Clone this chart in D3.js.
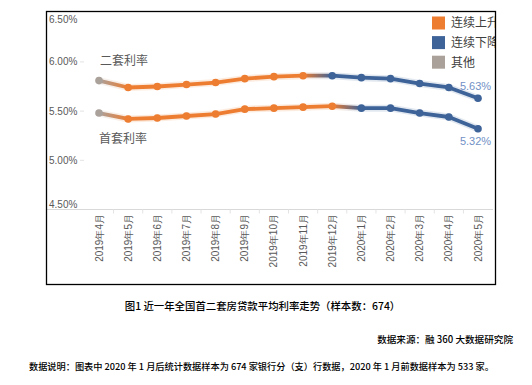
<!DOCTYPE html>
<html><head><meta charset="utf-8">
<script src="https://cdn.jsdelivr.net/npm/d3@7"></script>
<style>
html,body{margin:0;padding:0;background:#fff;}
svg{display:block;}
</style></head>
<body>
<svg id="c" width="532" height="385"></svg>
<script>
const months = ["2019年4月","2019年5月","2019年6月","2019年7月","2019年8月","2019年9月","2019年10月","2019年11月","2019年12月","2020年1月","2020年2月","2020年3月","2020年4月","2020年5月"];
const secondRate = [5.81,5.74,5.75,5.77,5.79,5.83,5.85,5.86,5.86,5.84,5.83,5.78,5.74,5.63];
const firstRate  = [5.48,5.42,5.43,5.45,5.47,5.52,5.53,5.54,5.55,5.53,5.53,5.48,5.44,5.32];
const secondState = ["其他","连续上升","连续上升","连续上升","连续上升","连续上升","连续上升","连续上升","连续下降","连续下降","连续下降","连续下降","连续下降","连续下降"];
const firstState  = ["其他","连续上升","连续上升","连续上升","连续上升","连续上升","连续上升","连续上升","连续上升","连续下降","连续下降","连续下降","连续下降","连续下降"];
const seriesNames = ["二套利率","首套利率"];
const legendItems = ["连续上升","连续下降","其他"];
const yTicks = [4.5,5.0,5.5,6.0,6.5];
const caption = "图1 近一年全国首二套房贷款平均利率走势（样本数：674）";
const sourceText = "数据来源：融 360 大数据研究院";
const noteText = "数据说明：图表中 2020 年 1 月后统计数据样本为 674 家银行分（支）行数据，2020 年 1 月前数据样本为 533 家。";

const colors = {"连续上升":"#ED7D31","连续下降":"#3D6399","其他":"#ABA19B"};

const svg = d3.select("#c");
const frame = {x:46.5, y:11.5, w:449, h:273};

const x = d3.scalePoint().domain(months).range([99, 478]);
const y = d3.scaleLinear().domain([4.5, 6.5]).range([209.5, 12.7]);
const step = x.step();

const defs = svg.append("defs");
defs.append("clipPath").attr("id","fclip").append("rect")
  .attr("x",frame.x).attr("y",frame.y).attr("width",frame.w).attr("height",frame.h);

// baseline grid
svg.append("line").attr("x1",frame.x).attr("x2",493).attr("y1",y(4.5)).attr("y2",y(4.5))
  .attr("stroke","#d9d9d9").attr("stroke-width",1);
// tiny grid remnants
yTicks.filter(v=>v>4.5 && v<6.5).forEach(v=>{
  svg.append("line").attr("x1",80).attr("x2",84).attr("y1",y(v)).attr("y2",y(v))
    .attr("stroke","#e3e3e3").attr("stroke-width",1);
});
// category ticks
months.forEach((m,i)=>{
  if(i===0) return;
  const xx = x(m) - step/2;
  svg.append("line").attr("x1",xx).attr("x2",xx).attr("y1",y(4.5)).attr("y2",y(4.5)+4)
    .attr("stroke","#e3e3e3").attr("stroke-width",1);
});

// y labels
yTicks.forEach(v=>{
  const yy = Math.min(Math.max(y(v), 19), 204.5);
  svg.append("text").attr("x",49).attr("y",yy).attr("dy","0.35em")
    .attr("font-family","Liberation Sans, Arial, sans-serif").attr("font-size",10)
    .attr("fill","#595959").text(d3.format(".2f")(v)+"%");
});

// x labels (rotated)
months.forEach(m=>{
  svg.append("text")
    .attr("transform",`translate(${x(m)+3.5},${214}) rotate(-90)`)
    .attr("text-anchor","end")
    .attr("font-family","Liberation Sans, Arial, sans-serif").attr("font-size",10)
    .attr("fill","#595959").text(m);
});

// lines with gradient segments
let gid = 0;
function drawSeries(vals, states){
  const g = svg.append("g");
  for(let i=0;i<vals.length-1;i++){
    const x1 = x(months[i]), x2 = x(months[i+1]);
    const c1 = colors[states[i]], c2 = colors[states[i+1]];
    let stroke = c1;
    if(c1!==c2){
      const id = "gr"+(gid++);
      const gr = defs.append("linearGradient").attr("id",id)
        .attr("gradientUnits","userSpaceOnUse").attr("x1",x1).attr("x2",x2).attr("y1",0).attr("y2",0);
      gr.append("stop").attr("offset","0%").attr("stop-color",c1);
      gr.append("stop").attr("offset","100%").attr("stop-color",c2);
      stroke = `url(#${id})`;
    }
    const seg = [[months[i],vals[i]],[months[i+1],vals[i+1]]];
    const line = d3.line().x(d=>x(d[0])).y(d=>y(d[1]));
    g.append("path").attr("d",line(seg)).attr("fill","none")
      .attr("stroke",stroke).attr("stroke-width",7).attr("stroke-opacity",0.15).attr("stroke-linecap","round");
    g.append("path").attr("d",line(seg)).attr("fill","none")
      .attr("stroke",stroke).attr("stroke-width",3.8).attr("stroke-linecap","round");
  }
  g.selectAll("circle").data(vals).join("circle")
    .attr("cx",(d,i)=>x(months[i])).attr("cy",d=>y(d)).attr("r",3.8)
    .attr("fill",(d,i)=>colors[states[i]]);
}
drawSeries(secondRate, secondState);
drawSeries(firstRate, firstState);

// series labels
svg.append("text").attr("x",x(months[0])+1).attr("y",y(secondRate[0])-20).attr("dy","0.35em")
  .attr("font-family","Noto Sans CJK SC, sans-serif").attr("font-size",12).attr("fill","#595959").text(seriesNames[0]);
svg.append("text").attr("x",x(months[0])).attr("y",y(firstRate[0])+26).attr("dy","0.35em")
  .attr("font-family","Noto Sans CJK SC, sans-serif").attr("font-size",12).attr("fill","#595959").text(seriesNames[1]);

// end labels
const last = months.length-1;
svg.append("text").attr("x",x(months[last])-2.5).attr("y",y(secondRate[last])-12).attr("dy","0.35em")
  .attr("text-anchor","middle").attr("font-family","Liberation Sans, Arial, sans-serif").attr("font-size",11)
  .attr("fill","#7191c6").text(d3.format(".2f")(secondRate[last])+"%");
svg.append("text").attr("x",x(months[last])-2.5).attr("y",y(firstRate[last])+12.5).attr("dy","0.35em")
  .attr("text-anchor","middle").attr("font-family","Liberation Sans, Arial, sans-serif").attr("font-size",11)
  .attr("fill","#7191c6").text(d3.format(".2f")(firstRate[last])+"%");

// legend
const lg = svg.append("g").attr("clip-path","url(#fclip)");
legendItems.forEach((k,i)=>{
  const yy = 16.5 + i*19.6;
  lg.append("rect").attr("x",432).attr("y",yy).attr("width",13).attr("height",13).attr("fill",colors[k]);
  lg.append("text").attr("x",451).attr("y",yy+6.5).attr("dy","0.36em")
    .attr("font-family","Noto Sans CJK SC, sans-serif").attr("font-size",12).attr("fill","#404040").text(k);
});

// frame
svg.append("rect").attr("x",frame.x).attr("y",frame.y).attr("width",frame.w).attr("height",frame.h)
  .attr("fill","none").attr("stroke","#000").attr("stroke-width",1.3);

// captions
svg.append("text").attr("x",262.5).attr("y",306).attr("dy","0.35em").attr("text-anchor","middle")
  .attr("font-family","Noto Sans CJK SC, sans-serif").attr("font-size",10.4).attr("font-weight",500)
  .attr("fill","#000").text(caption);
svg.append("text").attr("x",513).attr("y",340).attr("dy","0.35em").attr("text-anchor","end")
  .attr("font-family","Noto Sans CJK SC, sans-serif").attr("font-size",9.6).attr("font-weight",500)
  .attr("fill","#000").text(sourceText);
svg.append("text").attr("x",29).attr("y",367).attr("dy","0.35em")
  .attr("font-family","Noto Sans CJK SC, sans-serif").attr("font-size",9.2).attr("font-weight",500)
  .attr("fill","#000").text(noteText);
</script>
</body></html>
